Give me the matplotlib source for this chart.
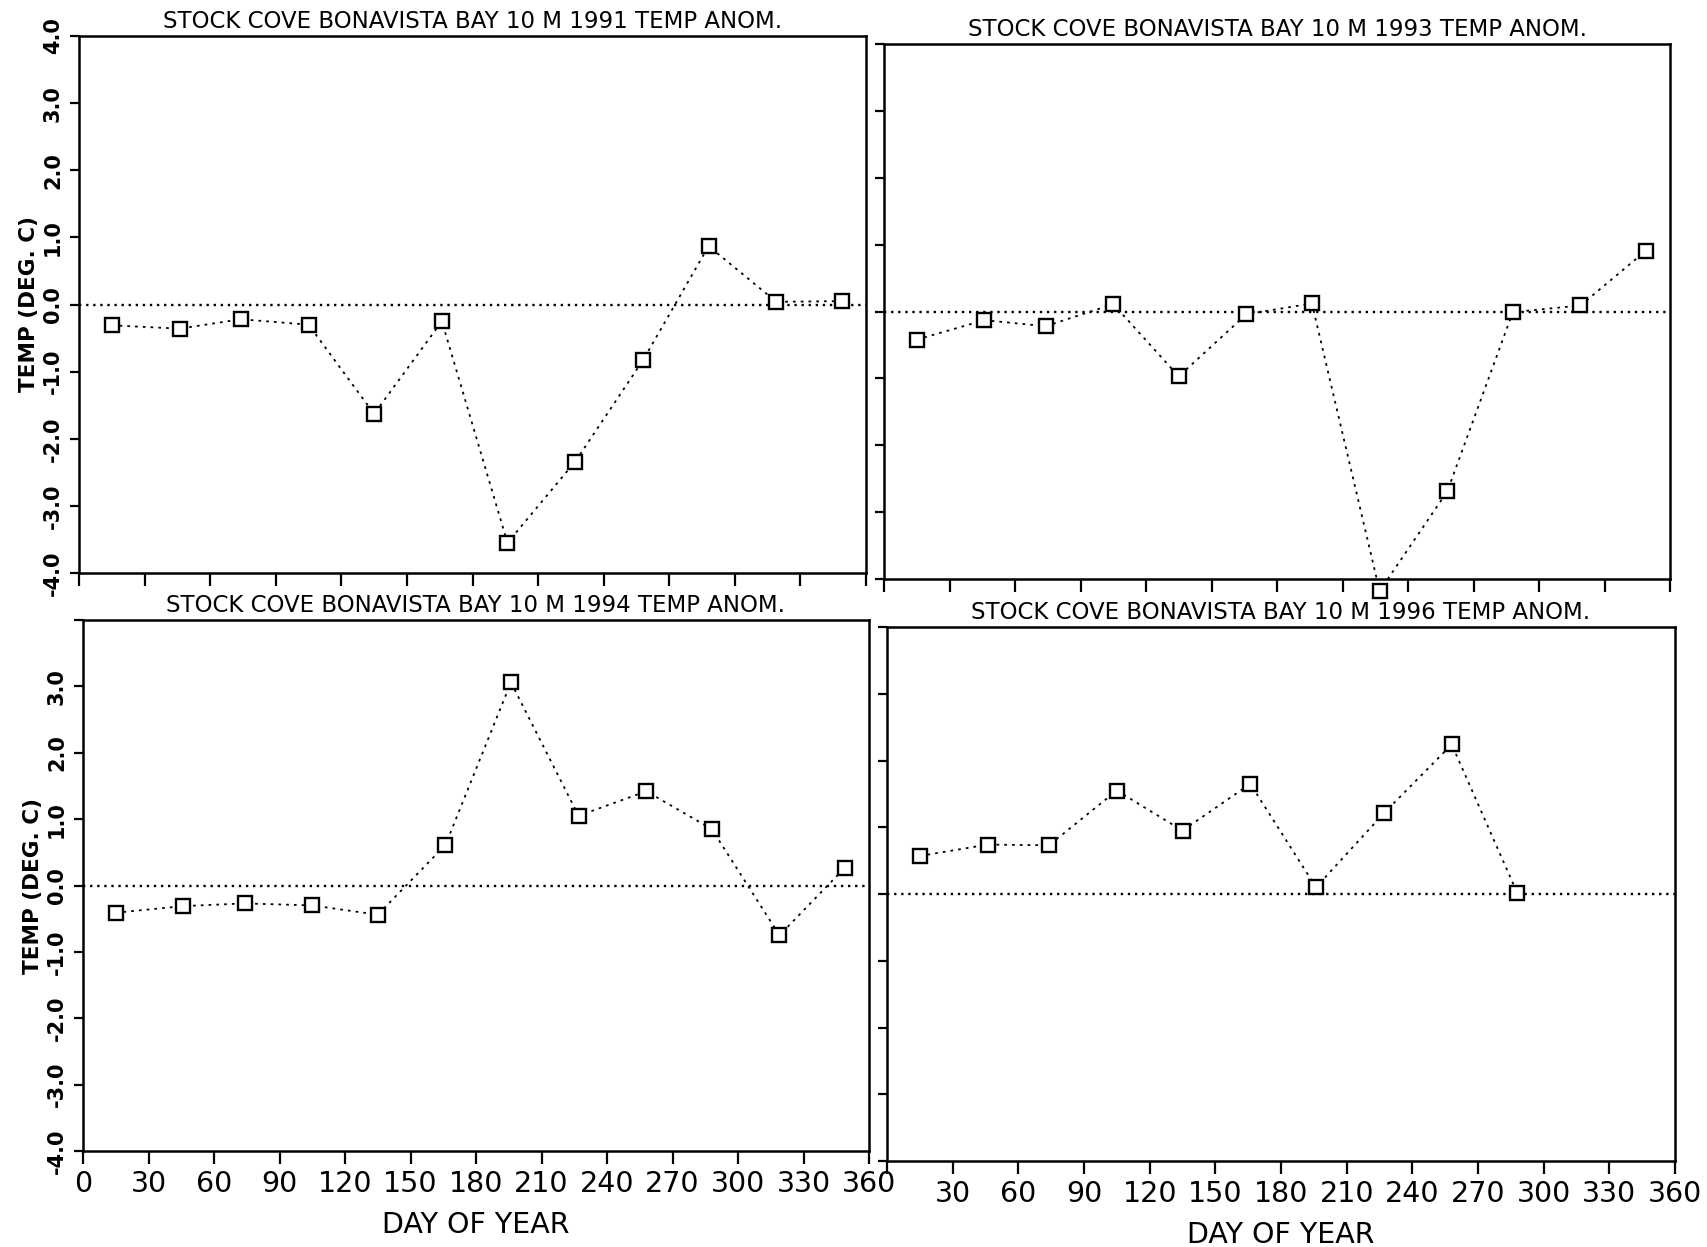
import numpy as np
import matplotlib
matplotlib.use("Agg")
import matplotlib.pyplot as plt

# mid-month sampling days
days = [15, 46, 74, 105, 135, 166, 196, 227, 258, 288, 319, 349]

anom_1991 = [-0.31, -0.36, -0.22, -0.30, -1.63, -0.25, -3.55, -2.34, -0.83, 0.87, 0.04, 0.05]
anom_1993 = [-0.42, -0.13, -0.22, 0.11, -0.97, -0.04, 0.12, -4.18, -2.69, -0.01, 0.09, 0.91]
anom_1994 = [-0.41, -0.31, -0.27, -0.30, -0.44, 0.61, 3.06, 1.05, 1.42, 0.85, -0.75, 0.27]
anom_1996 = [0.57, 0.74, 0.73, 1.55, 0.95, 1.65, 0.10, 1.21, 2.24, 0.01]

x_ticks = list(range(0, 361, 30))
y_ticks = [4.0, 3.0, 2.0, 1.0, 0.0, -1.0, -2.0, -3.0, -4.0]

title_font = ['Liberation Sans Narrow', 'DejaVu Sans']
W, H = 1707.0, 1247.0


def axes_box(left, top, right, bottom):
	return [left / W, (H - bottom) / H, (right - left) / W, (bottom - top) / H]


def draw_panel(ax, year, temps, ylabels, xlabels):
	x = days[:len(temps)]
	ax.plot(x, temps, color='black', linestyle=(0, (1.5, 2.8)), linewidth=1.3)
	ax.plot(x, temps, linestyle='None', marker='s', markersize=9.5,
			markerfacecolor='white', markeredgecolor='black', markeredgewidth=1.7,
			clip_on=False, zorder=4)
	ax.axhline(0.0, color='black', linestyle=(0, (1, 2.0)), linewidth=1.7)

	ax.set_xlim(0, 360)
	ax.set_ylim(-4, 4)
	ax.set_xticks(x_ticks)
	ax.set_yticks(y_ticks)

	if ylabels:
		labels = ['%.1f' % v if (ylabels == 'all' or v < 3.5) else '' for v in y_ticks]
		ax.set_yticklabels(labels, rotation=90, va='center', fontsize=15, fontweight='bold')
		ax.set_ylabel('TEMP (DEG. C)', fontsize=15.5, fontweight='bold', labelpad=3)
	else:
		ax.set_yticklabels([])

	if xlabels:
		labels = [str(t) for t in x_ticks]
		if xlabels == 'no_zero':
			labels[0] = ''
		ax.set_xticklabels(labels, fontsize=20.5)
		ax.set_xlabel('DAY OF YEAR', fontsize=20.5, labelpad=9)
	else:
		ax.set_xticklabels([])

	ax.tick_params(axis='x', direction='out', length=9, width=1.6, pad=5)
	ax.tick_params(axis='y', direction='out', length=6.5, width=1.6, pad=5)
	for s in ax.spines.values():
		s.set_linewidth(1.8)

	ax.set_title('STOCK COVE BONAVISTA BAY 10 M %d TEMP ANOM.' % year,
				 fontsize=16.5, family=title_font, pad=6)


fig = plt.figure(figsize=(17.07, 12.47), dpi=100)

ax1 = fig.add_axes(axes_box(79, 36, 866, 573))
ax2 = fig.add_axes(axes_box(884, 44, 1670, 579))
ax3 = fig.add_axes(axes_box(83, 620, 869, 1151))
ax4 = fig.add_axes(axes_box(887, 627, 1675, 1161))

draw_panel(ax1, 1991, anom_1991, 'all', None)
draw_panel(ax2, 1993, anom_1993, None, None)
draw_panel(ax3, 1994, anom_1994, 'below4', 'all')
draw_panel(ax4, 1996, anom_1996, None, 'no_zero')

fig.savefig('out.png', dpi=100)
